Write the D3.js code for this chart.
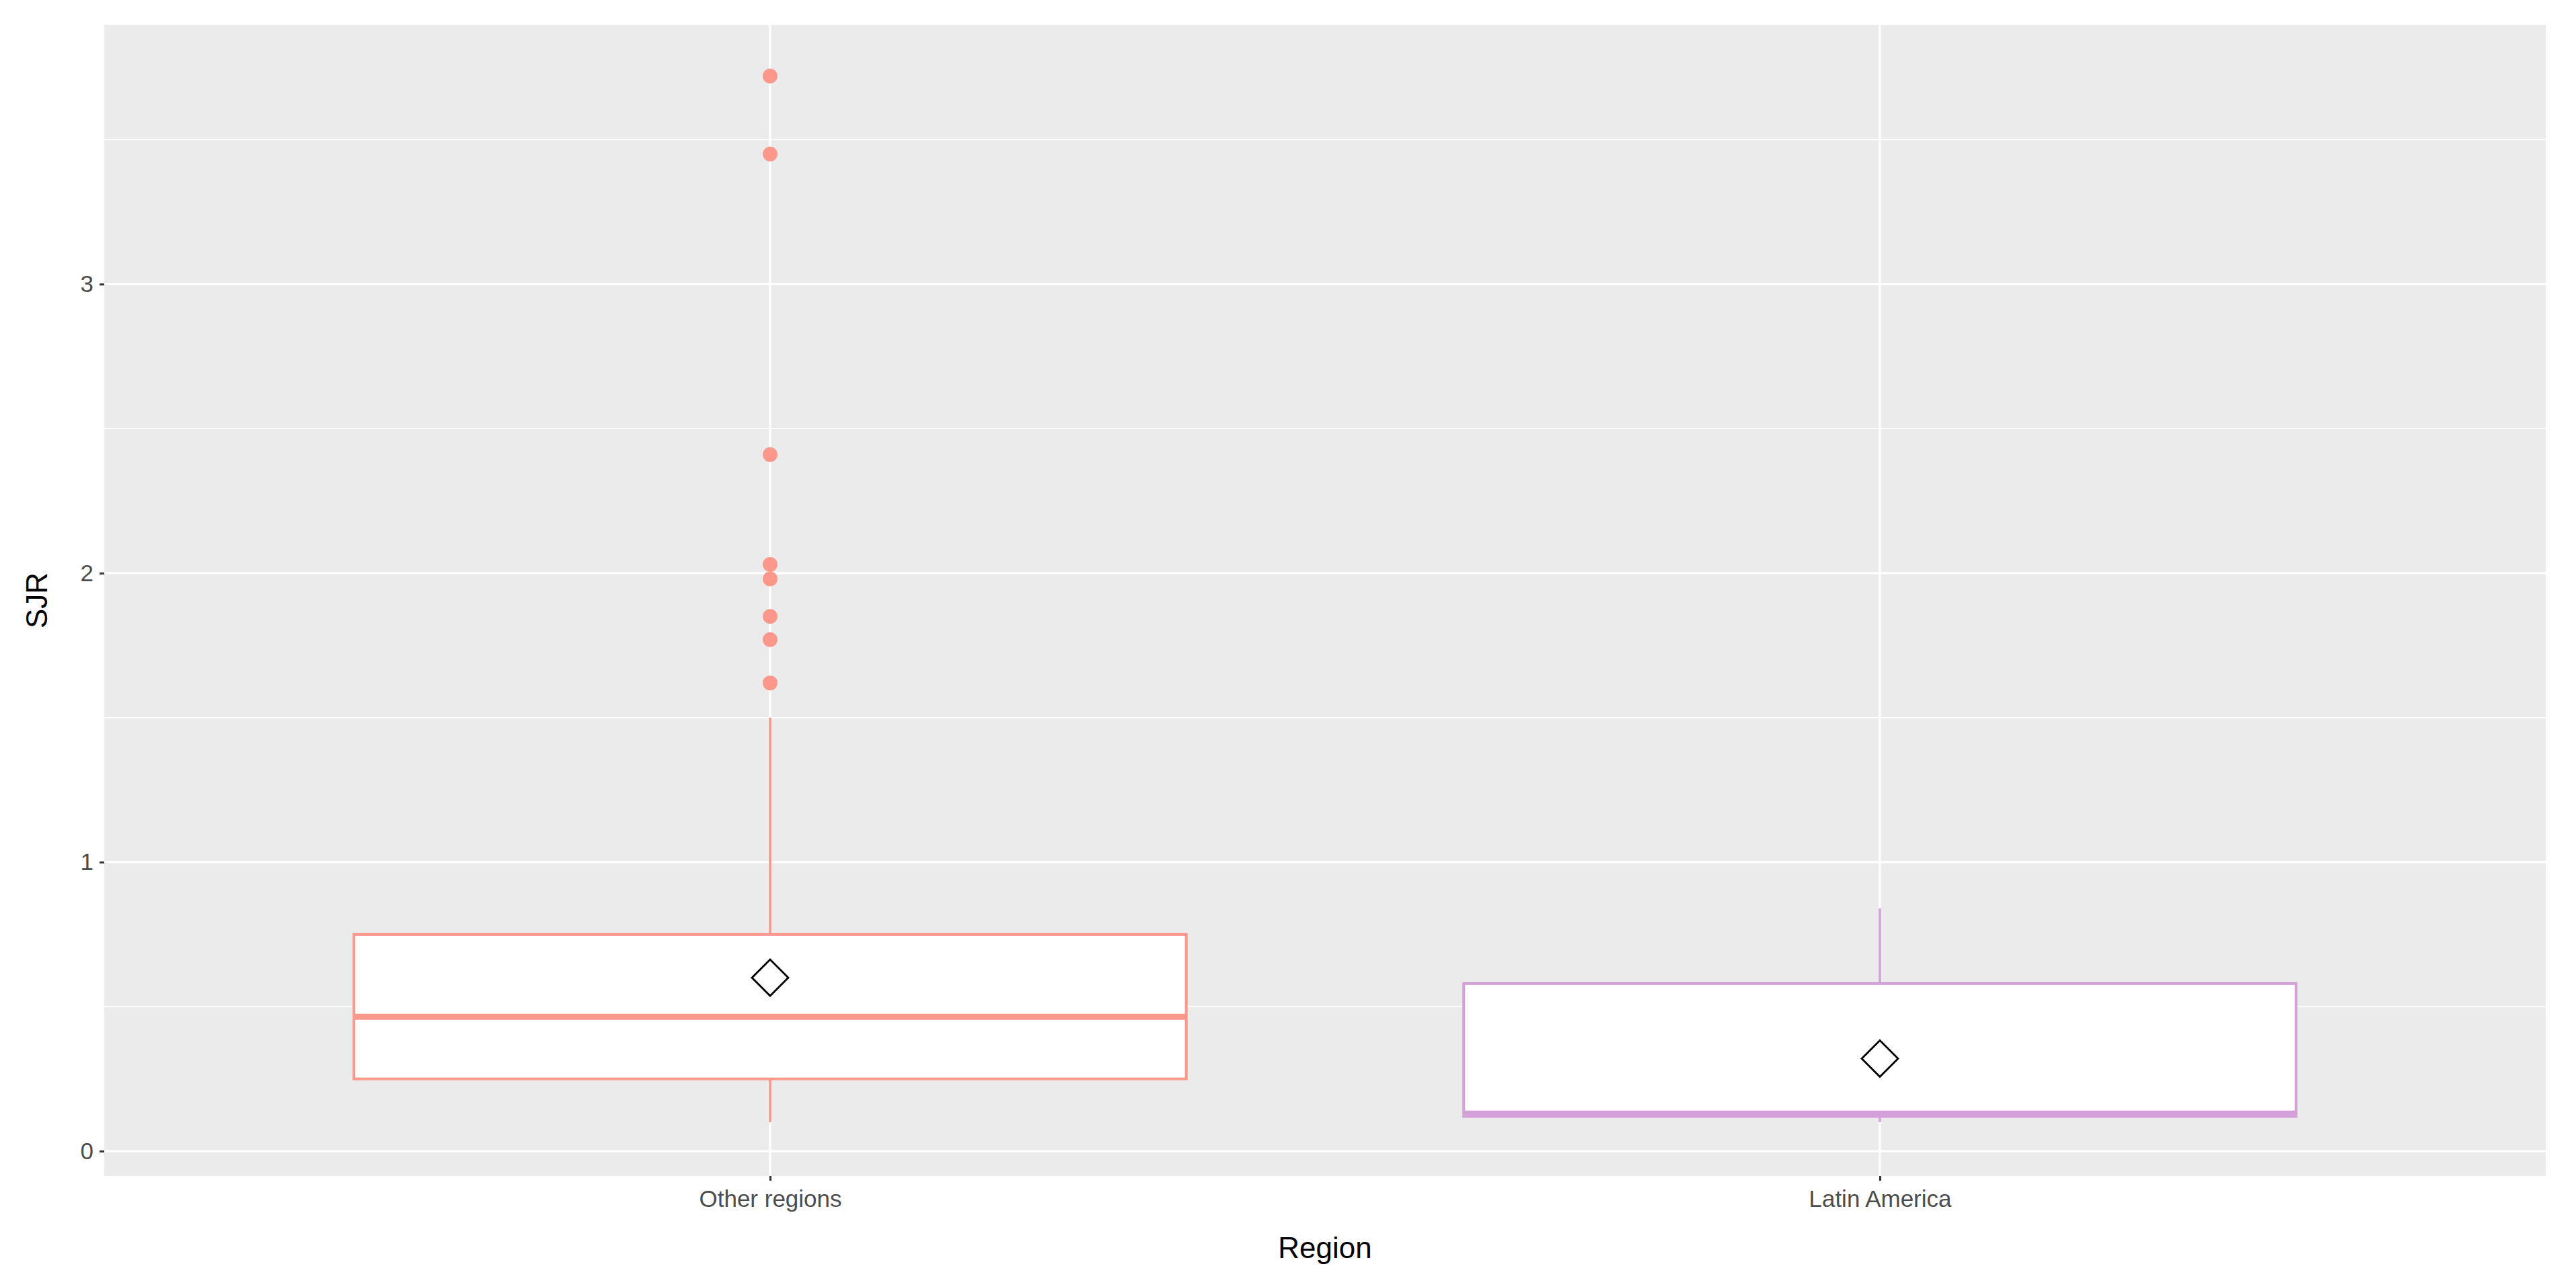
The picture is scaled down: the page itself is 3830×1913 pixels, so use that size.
<!DOCTYPE html>
<html>
<head>
<meta charset="utf-8">
<script src="https://cdn.jsdelivr.net/npm/d3@7"></script>
<style>
  body { margin: 0; background: #fff; }
  text { font-family: "Liberation Sans", Arial, sans-serif; }
</style>
</head>
<body>
<div id="chart"></div>
<script>
// data
const regions = ["Other regions", "Latin America"];
const colors = ["#FB978B", "#D4A0DA"];
const whiskerLow = [0.10, 0.10];
const q1 = [0.25, 0.12];
const median = [0.465, 0.13];
const q3 = [0.75, 0.58];
const whiskerHigh = [1.50, 0.84];
const means = [0.60, 0.32];
const outliers = [[3.72, 3.45, 2.41, 2.03, 1.98, 1.85, 1.77, 1.62], []];
const yTicks = [0, 1, 2, 3];
const yMinor = [0.5, 1.5, 2.5, 3.5];

const W = 3830, H = 1913;
const panel = { left: 155, right: 3785, top: 37, bottom: 1748 };

const svg = d3.select("#chart").append("svg")
  .attr("width", W).attr("height", H);

const y = d3.scaleLinear().domain([-0.086, 3.897]).range([panel.bottom, panel.top]);
const x = d3.scaleLinear().domain([0.4, 2.6]).range([panel.left, panel.right]);
const pos = (i) => x(i + 1);
const halfBox = (x(1.375) - x(1));

svg.append("rect")
  .attr("x", panel.left).attr("y", panel.top)
  .attr("width", panel.right - panel.left).attr("height", panel.bottom - panel.top)
  .attr("fill", "#EBEBEB");

let grid = svg.append("g");
grid.selectAll(".minor").data(yMinor).join("line")
  .attr("x1", panel.left).attr("x2", panel.right)
  .attr("y1", d => y(d)).attr("y2", d => y(d))
  .attr("stroke", "#fff").attr("stroke-width", 1.6);
grid.selectAll(".major").data(yTicks).join("line")
  .attr("x1", panel.left).attr("x2", panel.right)
  .attr("y1", d => y(d)).attr("y2", d => y(d))
  .attr("stroke", "#fff").attr("stroke-width", 3.2);
grid.selectAll(".vmajor").data(regions).join("line")
  .attr("x1", (d, i) => pos(i)).attr("x2", (d, i) => pos(i))
  .attr("y1", panel.top).attr("y2", panel.bottom)
  .attr("stroke", "#fff").attr("stroke-width", 3.2);

// boxes
const boxes = svg.selectAll(".box").data(regions).join("g");
boxes.append("line")
  .attr("x1", (d, i) => pos(i)).attr("x2", (d, i) => pos(i))
  .attr("y1", (d, i) => y(whiskerLow[i])).attr("y2", (d, i) => y(q1[i]))
  .attr("stroke", (d, i) => colors[i]).attr("stroke-width", 3.5);
boxes.append("line")
  .attr("x1", (d, i) => pos(i)).attr("x2", (d, i) => pos(i))
  .attr("y1", (d, i) => y(q3[i])).attr("y2", (d, i) => y(whiskerHigh[i]))
  .attr("stroke", (d, i) => colors[i]).attr("stroke-width", 3.5);
boxes.append("rect")
  .attr("x", (d, i) => pos(i) - halfBox).attr("width", 2 * halfBox)
  .attr("y", (d, i) => y(q3[i])).attr("height", (d, i) => y(q1[i]) - y(q3[i]))
  .attr("fill", "#fff").attr("stroke", (d, i) => colors[i]).attr("stroke-width", 4);
boxes.append("line")
  .attr("x1", (d, i) => pos(i) - halfBox).attr("x2", (d, i) => pos(i) + halfBox)
  .attr("y1", (d, i) => y(median[i])).attr("y2", (d, i) => y(median[i]))
  .attr("stroke", (d, i) => colors[i]).attr("stroke-width", 9);
boxes.each(function(d, i) {
  d3.select(this).selectAll("circle").data(outliers[i]).join("circle")
    .attr("cx", pos(i)).attr("cy", v => y(v)).attr("r", 11)
    .attr("fill", colors[i]);
});
boxes.append("path")
  .attr("d", (d, i) => {
    const cx = pos(i), cy = y(means[i]);
    return `M${cx},${cy - 27}L${cx + 27},${cy}L${cx},${cy + 27}L${cx - 27},${cy}Z`;
  })
  .attr("fill", "none").attr("stroke", "#000").attr("stroke-width", 2.8);

// axes
const yAxis = svg.append("g").attr("transform", `translate(${panel.left},0)`)
  .call(d3.axisLeft(y).tickValues(yTicks).tickFormat(d3.format("d")).tickSize(7).tickPadding(9));
yAxis.select(".domain").remove();
yAxis.selectAll("line").attr("stroke", "#333").attr("stroke-width", 3);
yAxis.selectAll("text").attr("font-size", 35).attr("fill", "#4D4D4D")
  .style("font-family", "Liberation Sans, Arial, sans-serif");

const xAxis = svg.append("g").attr("transform", `translate(0,${panel.bottom})`)
  .call(d3.axisBottom(x).tickValues([1, 2]).tickFormat(d => regions[d - 1]).tickSize(7).tickPadding(14));
xAxis.select(".domain").remove();
xAxis.selectAll("line").attr("stroke", "#333").attr("stroke-width", 3);
xAxis.selectAll("text").attr("font-size", 35).attr("fill", "#4D4D4D")
  .style("font-family", "Liberation Sans, Arial, sans-serif");

svg.append("text")
  .attr("x", (panel.left + panel.right) / 2).attr("y", 1870)
  .attr("text-anchor", "middle").attr("font-size", 44).attr("fill", "#000")
  .text("Region");
svg.append("text")
  .attr("transform", `translate(70,${(panel.top + panel.bottom) / 2}) rotate(-90)`)
  .attr("text-anchor", "middle").attr("font-size", 44).attr("fill", "#000")
  .text("SJR");
</script>
</body>
</html>
